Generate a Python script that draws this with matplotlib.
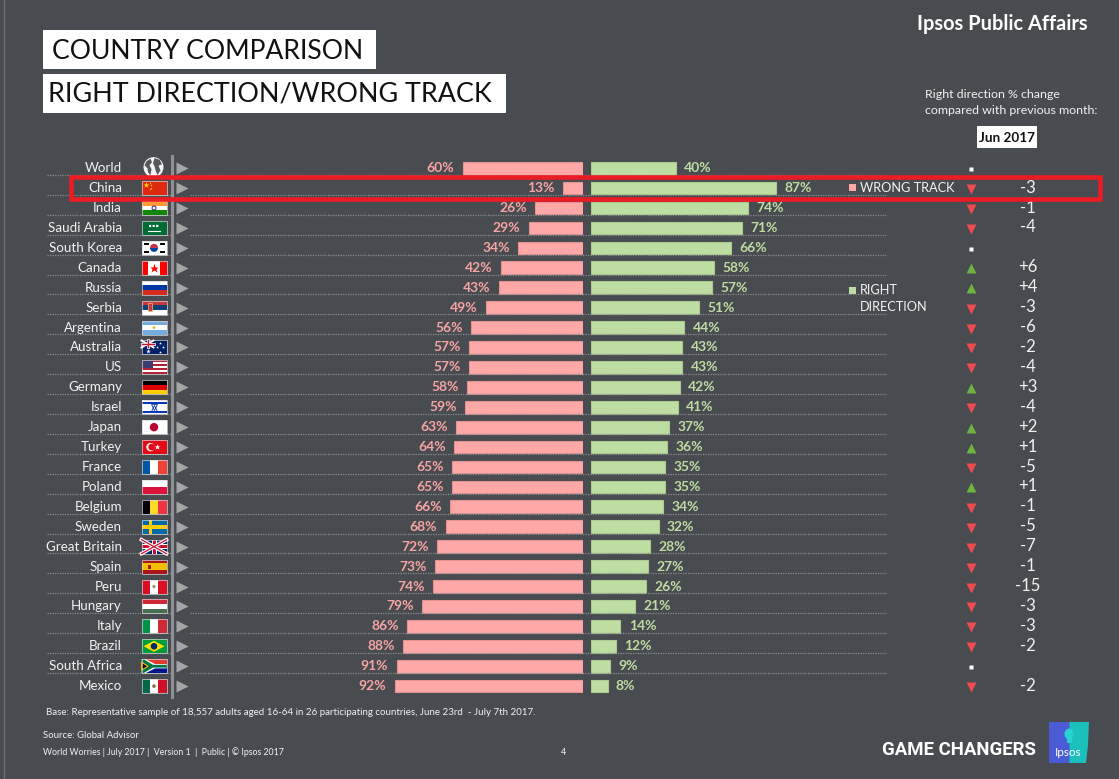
import matplotlib
matplotlib.use('Agg')
import matplotlib.pyplot as plt
from matplotlib.patches import Rectangle, Circle, Polygon, Wedge, Ellipse
import numpy as np

# ---------------- data ----------------
countries = ["World", "China", "India", "Saudi Arabia", "South Korea", "Canada", "Russia",
             "Serbia", "Argentina", "Australia", "US", "Germany", "Israel", "Japan", "Turkey",
             "France", "Poland", "Belgium", "Sweden", "Great Britain", "Spain", "Peru",
             "Hungary", "Italy", "Brazil", "South Africa", "Mexico"]
wrong_track = [60, 13, 26, 29, 34, 42, 43, 49, 56, 57, 57, 58, 59, 63, 64, 65, 65, 66, 68,
               72, 73, 74, 79, 86, 88, 91, 92]
right_direction = [40, 87, 74, 71, 66, 58, 57, 51, 44, 43, 43, 42, 41, 37, 36, 35, 35, 34,
                   32, 28, 27, 26, 21, 14, 12, 9, 8]
change = [None, -3, -1, -4, None, 6, 4, -3, -6, -2, -4, 3, -4, 2, 1, -5, 1, -1, -5, -7,
          -1, -15, -3, -3, -2, None, -2]
highlight = "China"

# ---------------- style / layout ----------------
W, H = 1119, 779
BG = '#484B4F'
FONT = 'Lato'
TXT = '#F2F2F2'
PINK = '#FFA8A8'
PINK_T = '#F7A4A4'
GREEN = '#BEDDA2'
GREEN_T = '#BEDDA2'
ROW0, ROWSTEP = 168.2, 19.92
ZERO_PX, PX_PER = 590.5, 2.13

plt.rcParams['font.family'] = [FONT, 'DejaVu Sans']

fig = plt.figure(figsize=(W / 100, H / 100), dpi=100, facecolor=BG)
renderer = fig.canvas.get_renderer()

# bar axes
AX_L, AX_R, AX_T, AX_B = 380, 800, 150, 700
ax = fig.add_axes([AX_L / W, 1 - AX_B / H, (AX_R - AX_L) / W, (AX_B - AX_T) / H])
ax.patch.set_alpha(0)
ax.set_xlim((AX_L - ZERO_PX) / PX_PER, (AX_R - ZERO_PX) / PX_PER)
ax.set_ylim((AX_B - ROW0) / ROWSTEP, (AX_T - ROW0) / ROWSTEP)
ax.axis('off')

# overlay axes in pixel coordinates
ov = fig.add_axes([0, 0, 1, 1])
ov.set_xlim(0, W)
ov.set_ylim(H, 0)
ov.axis('off')
ov.patch.set_alpha(0)
ov.set_zorder(5)

n = len(countries)
ypos = np.arange(n)


def row_px(i):
    return H - ax.transData.transform((0, i))[1]


def fit(x, y, s, width, ha='left', va='center', **kw):
    t = ov.text(x, y, s, ha=ha, va=va, **kw)
    bb = t.get_window_extent(renderer=renderer)
    t.set_fontsize(t.get_fontsize() * width / bb.width)
    return t


# ---------------- bars ----------------
ax.barh(ypos, [-v for v in wrong_track], height=0.64, color=PINK, edgecolor='#E39292',
        linewidth=0.8, zorder=2)
ax.barh(ypos, right_direction, height=0.64, color=GREEN, edgecolor='#A9CB8D',
        linewidth=0.8, zorder=2)
ax.axvspan(-3.4, 0, color=BG, zorder=3, lw=0)

for i, v in enumerate(wrong_track):
    ax.annotate(f'{v}%', xy=(-v, i), xytext=(-6, 0), textcoords='offset points',
                ha='right', va='center', color=PINK_T, fontweight='bold', fontsize=10)
for i, v in enumerate(right_direction):
    ax.annotate(f'{v}%', xy=(v, i), xytext=(6, 0), textcoords='offset points',
                ha='left', va='center', color=GREEN_T, fontweight='bold', fontsize=10,
                annotation_clip=False)

# ---------------- row decorations ----------------
for i in range(n - 1):
    yy = row_px(i + 0.34)
    ov.plot([47, 171], [yy, yy], color='#8A8D90', lw=0.9, ls=(0, (1, 1)), zorder=1)
    ov.plot([190, 886], [yy, yy], color='#8A8D90', lw=0.9, ls=(0, (1, 1)), zorder=1)

ov.plot([172, 172], [row_px(-0.6), row_px(n - 0.45)], color='#8E9093', lw=2.2, zorder=2)

for i, c in enumerate(countries):
    yy = row_px(i)
    ov.text(122, yy, c, ha='right', va='center', color=TXT, fontsize=9.6)
    ov.plot(182, yy, marker='>', ms=8.5, color='#A3A5A7', mec='none')

# ---------------- flags ----------------
FX, FW, FH = 141.5, 25, 14


def hstripes(y0, colors, ratios=None):
    ratios = ratios or [1] * len(colors)
    tot = sum(ratios)
    cur = y0
    for c, r in zip(colors, ratios):
        hh = FH * r / tot
        ov.add_patch(Rectangle((FX, cur), FW, hh, color=c, lw=0))
        cur += hh


def vstripes(y0, colors, ratios=None):
    ratios = ratios or [1] * len(colors)
    tot = sum(ratios)
    cur = FX
    for c, r in zip(colors, ratios):
        ww = FW * r / tot
        ov.add_patch(Rectangle((cur, y0), ww, FH, color=c, lw=0))
        cur += ww


def draw_flag(name, yc):
    y0 = yc - FH / 2
    cx = FX + FW / 2
    if name == "World":
        gx, gy = 153.5, yc - 1
        ov.add_patch(Circle((gx, gy), 10, color='#F4F4F4', lw=0))
        land = '#55585C'
        ov.add_patch(Polygon([(gx - 7, gy - 6), (gx - 3, gy - 8.5), (gx - 1.5, gy - 5), (gx - 4, gy - 2),
                              (gx - 2, gy + 2), (gx - 3, gy + 8), (gx - 5.5, gy + 5), (gx - 6, gy + 1),
                              (gx - 9, gy - 2)], closed=True, color=land, lw=0))
        ov.add_patch(Polygon([(gx + 1, gy - 9), (gx + 6, gy - 7.5), (gx + 8.5, gy - 3), (gx + 5, gy - 1.5),
                              (gx + 7, gy + 3), (gx + 4, gy + 8), (gx + 2, gy + 3), (gx + 1, gy - 1),
                              (gx - 0.5, gy - 4)], closed=True, color=land, lw=0))
        return
    if name == "China":
        hstripes(y0, ['#DE2910'])
        ov.plot(FX + 4, y0 + 4, marker='*', ms=4, color='#FFDE00', mec='none')
        for dx, dy in [(8, 2), (9.5, 4), (9.5, 6.5), (8, 8)]:
            ov.plot(FX + dx, y0 + dy, marker='*', ms=1.6, color='#FFDE00', mec='none')
    elif name == "India":
        hstripes(y0, ['#FF9933', '#FFFFFF', '#138808'])
        ov.add_patch(Circle((cx, yc), 2, fill=False, ec='#000080', lw=0.6))
    elif name == "Saudi Arabia":
        hstripes(y0, ['#006C35'])
        ov.plot([cx - 6, cx + 6], [yc + 3, yc + 3], color='white', lw=0.8)
        ov.plot([cx - 5, cx + 5], [yc - 1.5, yc - 1.5], color='white', lw=1.6, ls=(0, (1, 0.6)))
    elif name == "South Korea":
        hstripes(y0, ['#FFFFFF'])
        ov.add_patch(Wedge((cx, yc), 4, 180, 360, color='#CD2E3A', lw=0))
        ov.add_patch(Wedge((cx, yc), 4, 0, 180, color='#0047A0', lw=0))
        for dx, dy in [(-8, -4), (8, -4), (-8, 4), (8, 4)]:
            ov.plot([cx + dx - 1.5, cx + dx + 1.5], [yc + dy, yc + dy], color='black', lw=1.4)
    elif name == "Canada":
        vstripes(y0, ['#FF0000', '#FFFFFF', '#FF0000'], [1, 2, 1])
        ov.plot(cx, yc, marker='*', ms=6.5, color='#FF0000', mec='none')
    elif name == "Russia":
        hstripes(y0, ['#FFFFFF', '#0039A6', '#D52B1E'])
    elif name == "Serbia":
        hstripes(y0, ['#C6363C', '#0C4076', '#FFFFFF'])
        ov.add_patch(Rectangle((FX + 6, y0 + 2), 4, 8, color='#C6363C', ec='#E8C070', lw=0.5))
    elif name == "Argentina":
        hstripes(y0, ['#74ACDF', '#FFFFFF', '#74ACDF'])
        ov.add_patch(Circle((cx, yc), 1.4, color='#F6B40E', lw=0))
    elif name == "Australia":
        hstripes(y0, ['#012169'])
        ux, uy, uw, uh = FX, y0, 12, 7
        ov.plot([ux, ux + uw], [uy, uy + uh], color='white', lw=1.4)
        ov.plot([ux, ux + uw], [uy + uh, uy], color='white', lw=1.4)
        ov.plot([ux + uw / 2] * 2, [uy, uy + uh], color='white', lw=2)
        ov.plot([ux, ux + uw], [uy + uh / 2] * 2, color='white', lw=2)
        ov.plot([ux + uw / 2] * 2, [uy, uy + uh], color='#C8102E', lw=1)
        ov.plot([ux, ux + uw], [uy + uh / 2] * 2, color='#C8102E', lw=1)
        for dx, dy, s in [(6, 11, 3.5), (18, 3, 2.2), (21, 7, 2.2), (18, 11.5, 2.2), (15, 7, 2)]:
            ov.plot(FX + dx, y0 + dy, marker='*', ms=s, color='white', mec='none')
    elif name == "US":
        hstripes(y0, ['#B22234', '#FFFFFF'] * 3 + ['#B22234'])
        ov.add_patch(Rectangle((FX, y0), 11, FH * 4 / 7, color='#3C3B6E', lw=0))
    elif name == "Germany":
        hstripes(y0, ['#000000', '#DD0000', '#FFCE00'])
    elif name == "Israel":
        hstripes(y0, ['#FFFFFF', '#0038B8', '#FFFFFF', '#0038B8', '#FFFFFF'], [1.2, 1.3, 5, 1.3, 1.2])
        ov.plot(cx, yc + 0.5, marker='^', ms=4, mfc='none', mec='#0038B8', mew=0.6)
        ov.plot(cx, yc - 0.5, marker='v', ms=4, mfc='none', mec='#0038B8', mew=0.6)
    elif name == "Japan":
        hstripes(y0, ['#FFFFFF'])
        ov.add_patch(Circle((cx, yc), 4.2, color='#BC002D', lw=0))
    elif name == "Turkey":
        hstripes(y0, ['#E30A17'])
        ov.add_patch(Circle((FX + 9, yc), 4.2, color='white', lw=0))
        ov.add_patch(Circle((FX + 10.2, yc), 3.4, color='#E30A17', lw=0))
        ov.plot(FX + 15, yc, marker='*', ms=4, color='white', mec='none')
    elif name == "France":
        vstripes(y0, ['#0055A4', '#FFFFFF', '#EF4135'])
    elif name == "Poland":
        hstripes(y0, ['#FFFFFF', '#DC143C'])
    elif name == "Belgium":
        vstripes(y0, ['#000000', '#FDDA24', '#EF3340'])
    elif name == "Sweden":
        hstripes(y0, ['#006AA7'])
        ov.add_patch(Rectangle((FX + 7, y0), 3.5, FH, color='#FECC00', lw=0))
        ov.add_patch(Rectangle((FX, yc - 1.75), FW, 3.5, color='#FECC00', lw=0))
    elif name == "Great Britain":
        hstripes(y0, ['#012169'])
        ov.plot([FX, FX + FW], [y0, y0 + FH], color='white', lw=2.6)
        ov.plot([FX, FX + FW], [y0 + FH, y0], color='white', lw=2.6)
        ov.plot([FX, FX + FW], [y0, y0 + FH], color='#C8102E', lw=0.9)
        ov.plot([FX, FX + FW], [y0 + FH, y0], color='#C8102E', lw=0.9)
        ov.add_patch(Rectangle((cx - 2.5, y0), 5, FH, color='white', lw=0))
        ov.add_patch(Rectangle((FX, yc - 2.5), FW, 5, color='white', lw=0))
        ov.add_patch(Rectangle((cx - 1.5, y0), 3, FH, color='#C8102E', lw=0))
        ov.add_patch(Rectangle((FX, yc - 1.5), FW, 3, color='#C8102E', lw=0))
    elif name == "Spain":
        hstripes(y0, ['#AA151B', '#F1BF00', '#AA151B'], [1, 2, 1])
        ov.add_patch(Rectangle((FX + 6, yc - 2), 3, 4, color='#AD1519', lw=0))
    elif name == "Peru":
        vstripes(y0, ['#D91023', '#FFFFFF', '#D91023'])
        ov.add_patch(Circle((cx, yc), 1.6, color='#8A9A5B', lw=0))
    elif name == "Hungary":
        hstripes(y0, ['#CE2939', '#FFFFFF', '#477050'])
    elif name == "Italy":
        vstripes(y0, ['#009246', '#FFFFFF', '#CE2B37'])
    elif name == "Brazil":
        hstripes(y0, ['#009C3B'])
        ov.add_patch(Polygon([(cx, y0 + 1.5), (FX + FW - 2, yc), (cx, y0 + FH - 1.5), (FX + 2, yc)],
                             closed=True, color='#FEDF00', lw=0))
        ov.add_patch(Circle((cx, yc), 3.3, color='#002776', lw=0))
    elif name == "South Africa":
        hstripes(y0, ['#E03C31', '#001489'])
        ov.add_patch(Polygon([(FX, y0), (FX + 4, y0), (cx + 1, yc - 2.2), (FX + FW, yc - 2.2),
                              (FX + FW, yc + 2.2), (cx + 1, yc + 2.2), (FX + 4, y0 + FH), (FX, y0 + FH)],
                             closed=True, color='white', lw=0))
        ov.add_patch(Polygon([(FX, y0 + 1), (FX + 2, y0), (cx - 1, yc - 1.4), (FX + FW, yc - 1.4),
                              (FX + FW, yc + 1.4), (cx - 1, yc + 1.4), (FX + 2, y0 + FH), (FX, y0 + FH - 1)],
                             closed=True, color='#007749', lw=0))
        ov.add_patch(Polygon([(FX, y0 + 3), (FX + 6.5, yc), (FX, y0 + FH - 3)],
                             closed=True, color='#000000', ec='#FFB612', lw=0.8))
    elif name == "Mexico":
        vstripes(y0, ['#006847', '#FFFFFF', '#CE1126'])
        ov.add_patch(Circle((cx, yc), 1.8, color='#8C6D3F', lw=0))
    ov.add_patch(Rectangle((FX, y0), FW, FH, fill=False, ec='#D8D8D8', lw=0.5))


for i, c in enumerate(countries):
    draw_flag(c, row_px(i))

# ---------------- change column ----------------
for i, ch in enumerate(change):
    yy = row_px(i)
    if ch is None:
        ov.plot(971, yy + 1, marker='s', ms=3.2, color='white', mec='none')
        continue
    if ch < 0:
        ov.plot(971, yy + 1, marker='v', ms=7.5, color='#EE4B4F', mec='none')
        s = f'-{abs(ch)}'
    else:
        ov.plot(971, yy + 0.5, marker='^', ms=7.5, color='#6DB33F', mec='none')
        s = f'+{ch}'
    ov.text(1027.5, yy - 0.5, s, ha='center', va='center', color=TXT, fontsize=12)

# ---------------- legend ----------------
LEG_FS = 9.2
ov.add_patch(Rectangle((849, 184), 7, 7, color=PINK, lw=0))
ov.text(860, 187.5, 'WRONG TRACK', ha='left', va='center', color=TXT, fontsize=LEG_FS)
ov.add_patch(Rectangle((849, 286.5), 7, 7, color=GREEN, lw=0))
ov.text(860, 290, 'RIGHT', ha='left', va='center', color=TXT, fontsize=LEG_FS)
ov.text(860, 307, 'DIRECTION', ha='left', va='center', color=TXT, fontsize=LEG_FS)

# ---------------- highlight box ----------------
hi = countries.index(highlight)
ov.add_patch(Rectangle((70.5, row_px(hi) - 10.7), 1100 - 70.5, 21.3, fill=False,
                       ec='#EC1C24', lw=3.3, zorder=10))

# ---------------- titles ----------------
ov.add_patch(Rectangle((43, 30), 333, 39, color='white', lw=0))
ov.add_patch(Rectangle((43, 74), 463, 39, color='white', lw=0))
fit(52, 51.5, 'COUNTRY COMPARISON', 310, color='#111111', fontsize=22)
fit(48, 94, 'RIGHT DIRECTION/WRONG TRACK', 441, color='#111111', fontsize=22)

fit(1088, 24, 'Ipsos Public Affairs', 171, ha='right', color='white', fontweight='bold', fontsize=13)
t2 = fit(925, 110, 'compared with previous month:', 173, color=TXT, fontsize=9.5)
ov.text(925, 94, 'Right direction % change', ha='left', va='center', color=TXT,
        fontsize=t2.get_fontsize())
ov.add_patch(Rectangle((977, 126), 60, 22, color='white', lw=0))
fit(1007, 137.5, 'Jun 2017', 56, ha='center', color='#111111', fontweight='bold', fontsize=11)

# ---------------- footer ----------------
fit(46, 712.5, 'Base: Representative sample of 18,557 adults aged 16-64 in 26 participating '
    'countries, June 23rd  - July 7th 2017.', 489, color=TXT, fontsize=7)
fit(43, 735, 'Source: Global Advisor', 97, color=TXT, fontsize=7)
fit(43, 752.5, 'World Worries | July 2017 |  Version 1  |  Public | © Ipsos 2017', 243,
    color=TXT, fontsize=6)
ov.text(564, 752.5, '4', ha='center', va='center', color=TXT, fontsize=6.5)
fit(882, 750, 'GAME CHANGERS', 154, color='white', fontweight='bold', fontsize=12,
    family=['Roboto', 'DejaVu Sans'])

# Ipsos logo
ov.add_patch(Rectangle((1049, 722), 21, 41, color='#4B5BD6', lw=0))
ov.add_patch(Polygon([(1069.5, 722), (1089, 722), (1088, 745), (1086, 763), (1069.5, 763)],
                     closed=True, color='#1BBFBC', lw=0))
ov.add_patch(Ellipse((1069, 734), 9, 11, color='#27D3CF', lw=0))
ov.add_patch(Rectangle((1066.5, 737), 5, 6, color='#27D3CF', lw=0))
ov.text(1068.5, 752, 'Ipsos', ha='center', va='center', color='white', fontsize=8.5)

ov.plot([3.5, 3.5], [0, H], color='#6A6D71', lw=1)

fig.savefig('out.png', dpi=100, facecolor=BG)
